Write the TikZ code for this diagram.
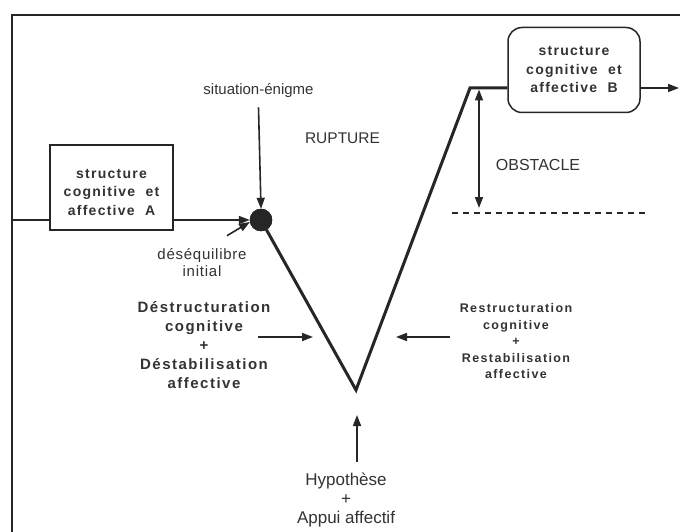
\documentclass[tikz,border=0pt]{standalone}
\usepackage{fontspec}
\setmainfont{Liberation Sans}
\newfontfamily\boxfont[LetterSpace=9]{Liberation Sans}
\newfontfamily\leftfont[LetterSpace=10]{Liberation Sans}
\newfontfamily\rightfont[LetterSpace=11]{Liberation Sans}
\newfontfamily\smallfont[LetterSpace=5]{Liberation Sans}
\usetikzlibrary{arrows.meta,calc}
\definecolor{ink}{HTML}{262626}
\definecolor{txt}{HTML}{333333}
\tikzset{
  frameline/.style={draw=ink,line width=2pt},
  vline/.style={draw=ink,line width=3pt,line join=miter},
  conn/.style={draw=ink,line width=1.6pt},
  arr/.style={conn,-{Triangle[length=11pt,width=8pt]}},
  dblarr/.style={conn,{Triangle[length=11pt,width=8pt]}-{Triangle[length=11pt,width=8pt]}},
  structbox/.style={draw=ink,line width=1.5pt,fill=white,minimum width=123pt,minimum height=85pt,
     align=center,text=txt,font=\boxfont\bfseries\fontsize{14}{18.5}\selectfont,inner sep=2pt},
  plain/.style={text=txt,inner sep=3pt},
}
\begin{document}
\begin{tikzpicture}[x=1pt,y=-1pt]
\useasboundingbox[fill=white] (0,0) rectangle (680,532);
% frame
\coordinate (frameTR) at (680,15);
\coordinate (frameTL) at (12,15);
\coordinate (frameBL) at (12,532);
\draw[frameline] (frameTR) -- (frameTL) -- (frameBL);
% nodes
\node[structbox] (A) at (111.5,187.5) {\rule{0pt}{19pt}structure\\cognitive\ \ et\\affective\ \ A};
\node[structbox,rounded corners=14pt,minimum width=132pt] (B) at (574,70) {structure\\cognitive\ \ et\\affective\ \ B};
\node[circle,fill=ink,draw=ink,minimum size=22pt,inner sep=0pt] (C) at (261,220) {};
\node[plain,anchor=base,font=\fontsize{15}{17}\selectfont] (S) at (258.5,95) {situation-énigme};
\node[plain,anchor=base,font=\fontsize{15.5}{17}\selectfont] (R) at (342.5,143) {RUPTURE};
\node[plain,anchor=base,font=\fontsize{16}{17}\selectfont] (O) at (538,170) {OBSTACLE};
\node[plain,align=center,font=\smallfont\fontsize{15}{17}\selectfont] (D) at (202,263) {déséquilibre\\initial};
\node[plain,align=center,font=\leftfont\bfseries\fontsize{15}{19}\selectfont] (L) at (204,344.6) {Déstructuration\\cognitive\\+\\Déstabilisation\\affective};
\node[plain,align=center,font=\rightfont\bfseries\fontsize{12.5}{16.5}\selectfont] (Rt) at (516,341.5) {Restructuration\\cognitive\\+\\Restabilisation\\affective};
\node[plain,align=center,font=\fontsize{17}{19}\selectfont] (H) at (346,499.7) {Hypothèse\\+\\Appui affectif};
% coordinates
\coordinate (frameL) at (12,220);
\coordinate (Vbot) at (356,390);
\coordinate (Vtop) at (470,88);
\coordinate (outR) at (679,88);
\coordinate (la) at (258,337);
\coordinate (lb) at (313,337);
\coordinate (ra) at (450,337);
\coordinate (rb) at (396,337);
\coordinate (ha) at (357,462);
\coordinate (hb) at (357,415);
\coordinate (ob1) at (479,89.5);
\coordinate (ob2) at (479,208);
\coordinate (dl1) at (452,213);
\coordinate (dl2) at (648,213);
% connectors
\draw[conn] (frameL) -- (frameL -| A.west);
\draw[arr] (C -| A.east) -- (C.west);
\draw[arr] ([xshift=25pt,yshift=10pt]D.north) -- (C.190);
\draw[arr] ([yshift=-6pt]S.south) -- (C.north);
\draw[vline] (C) -- (Vbot) -- (Vtop) -- (Vtop -| B.west);
\draw[arr] (Vtop -| B.east) -- (outR);
\draw[dblarr] (ob1) -- (ob2);
\draw[draw=ink,line width=1.3pt,dash pattern=on 6pt off 5pt] (dl1) -- (dl2);
\draw[arr] (la) -- (lb);
\draw[arr] (ra) -- (rb);
\draw[arr] (ha) -- (hb);
\node[circle,fill=ink,draw=ink,minimum size=22pt,inner sep=0pt] at (C) {};
\end{tikzpicture}
\end{document}
